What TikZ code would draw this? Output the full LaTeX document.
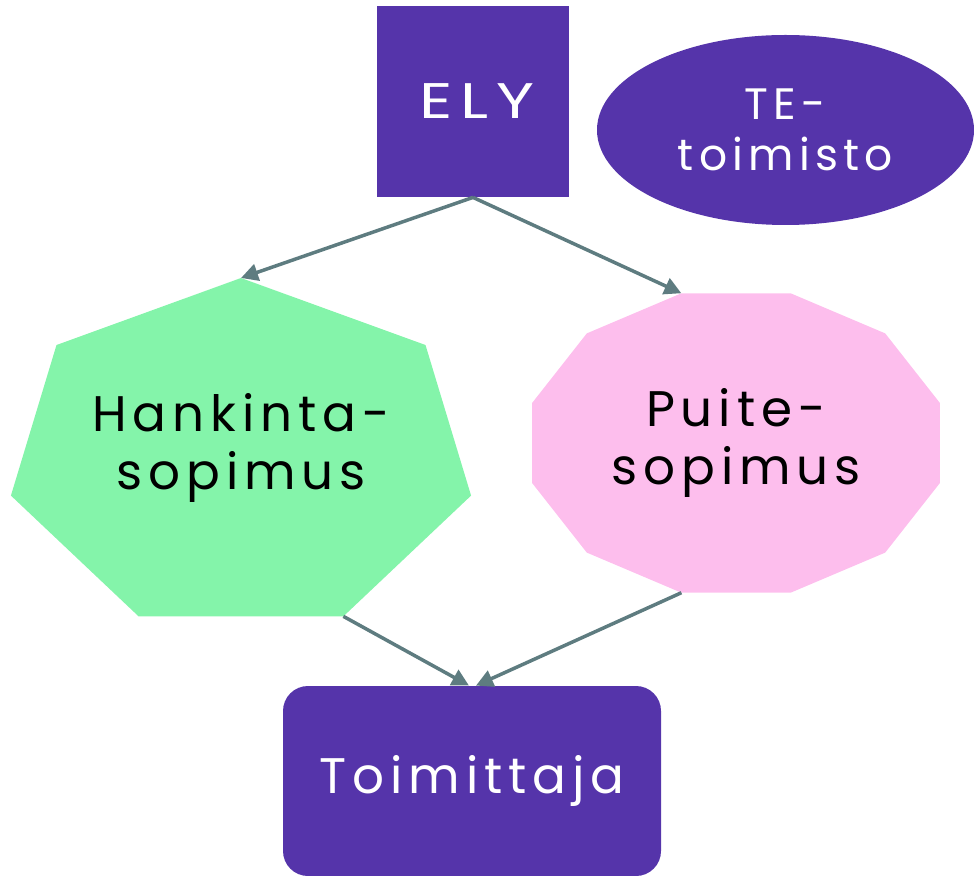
\documentclass[tikz,border=0pt]{standalone}
\usepackage{fontspec}
\setmainfont{Poppins}[LetterSpace=12]
\usepackage{graphicx}
\usepackage{tikz}
\usetikzlibrary{shapes.geometric, arrows.meta, calc}

\definecolor{elypurple}{RGB}{85,52,170}
\definecolor{hankgreen}{RGB}{132,244,170}
\definecolor{puitepink}{RGB}{253,190,237}
\definecolor{arrowgray}{RGB}{94,124,128}

\begin{document}
\begin{tikzpicture}[
		x=0.5pt, y=-0.5pt,
		every node/.style={inner sep=0pt, align=center, font=\fontsize{25}{29}\selectfont},
		purplebox/.style={fill=elypurple, text=white},
		flowarrow/.style={draw=arrowgray, line width=1.75pt, -{Triangle[length=8.5pt, width=8.5pt]}}
	]
  \useasboundingbox (0,0) rectangle (974,876);
  \node (ely) [rectangle, purplebox, minimum width=96pt, minimum height=95.5pt] at (473,101.5) {\scalebox{1.3}[1]{ELY\hspace{-3pt}}};
  \node (te) [ellipse, purplebox, minimum width=188.5pt, minimum height=95pt, font=\fontsize{22}{25.5}\selectfont] at (785.5,130) {TE-\\toimisto};
  \node (toim) [rectangle, rounded corners=12.5pt, purplebox, minimum width=189pt, minimum height=95pt] at (472,781) {Toimittaja};
  \foreach \i in {1,...,7}
    \coordinate (hk\i) at ({241+236*cos(90+(\i-1)*360/7)},{456-178*sin(90+(\i-1)*360/7)});
  \foreach \i in {1,...,12}
    \coordinate (pk\i) at ({736+211*cos(75+(\i-1)*30)},{443-155*sin(75+(\i-1)*30)});
  \fill[hankgreen] (hk1) \foreach \i in {2,...,7}{ -- (hk\i)} -- cycle;
  \fill[puitepink] (pk1) \foreach \i in {2,...,12}{ -- (pk\i)} -- cycle;
  \node (hank) at (241,448) {Hankinta-\\sopimus};
  \node (puite) at (736,443) {Puite-\\sopimus};
  \coordinate (toim_l) at ($(toim.north)+(-3,0)$);
  \coordinate (toim_r) at ($(toim.north)+(4,0)$);
  \draw[flowarrow] (ely.south) -- (hk1);
  \draw[flowarrow] (ely.south) -- (pk2);
  \draw[flowarrow] (hk5) -- (toim_l);
  \draw[flowarrow] (pk7) -- (toim_r);
\end{tikzpicture}
\end{document}
